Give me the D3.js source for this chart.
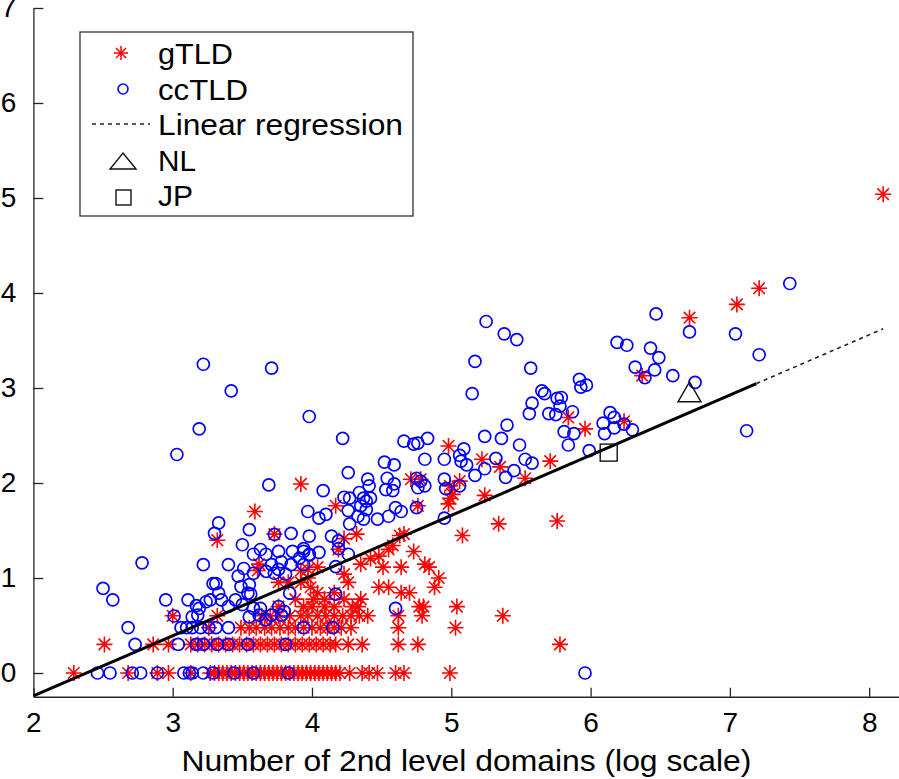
<!DOCTYPE html>
<html><head><meta charset="utf-8">
<script src="https://cdn.jsdelivr.net/npm/d3@7"></script>
<style>body{margin:0;background:#fff}svg{display:block}text{font-family:"Liberation Sans",Arial,Helvetica,sans-serif;fill:#000}</style>
</head><body><svg id="c" width="899" height="779"></svg>
<script>
const xTicks = [2, 3, 4, 5, 6, 7, 8];
const yTicks = [0, 1, 2, 3, 4, 5, 6, 7];
const xDomain = [2, 8.5];
const yDomain = [-0.25, 7];
const xLabel = "Number of 2nd level domains (log scale)";
const legendLabels = ["gTLD", "ccTLD", "Linear regression", "NL", "JP"];

// gTLD: [log10 #2nd-level domains, value]
const gtld = [
[2.29,0],[2.68,0],[2.89,0],[2.97,0],[3.13,0],[3.27,0],[3.30,0],[3.33,0],[3.36,0],[3.39,0],[3.42,0],[3.45,0],[3.48,0],[3.51,0],[3.54,0],[3.57,0],[3.60,0],[3.63,0],[3.66,0],[3.69,0],[3.72,0],[3.75,0],[3.78,0],[3.81,0],[3.84,0],[3.87,0],[3.90,0],[3.93,0],[3.96,0],[3.99,0],[4.02,0],[4.05,0],[4.08,0],[4.11,0],[4.14,0],[4.17,0],[4.20,0],[4.27,0],[4.36,0],[4.41,0],[4.47,0],[4.60,0],[4.66,0],[4.99,0],
[2.51,0.301],[2.86,0.301],[2.97,0.301],[3.13,0.301],[3.18,0.301],[3.23,0.301],[3.28,0.301],[3.33,0.301],[3.38,0.301],[3.43,0.301],[3.48,0.301],[3.53,0.301],[3.58,0.301],[3.63,0.301],[3.68,0.301],[3.73,0.301],[3.78,0.301],[3.83,0.301],[3.88,0.301],[3.93,0.301],[3.98,0.301],[4.03,0.301],[4.08,0.301],[4.13,0.301],[4.17,0.301],[4.26,0.301],[4.36,0.301],[4.62,0.301],[4.76,0.301],[5.78,0.301],
[3.26,0.477],[3.49,0.477],[3.55,0.477],[3.60,0.477],[3.66,0.477],[3.71,0.477],[3.77,0.477],[3.83,0.477],[3.88,0.477],[3.94,0.477],[4.00,0.477],[4.06,0.477],[4.11,0.477],[4.16,0.477],[4.21,0.477],[4.28,0.477],[4.62,0.477],[5.03,0.477],
[3.00,0.602],[3.32,0.602],[3.64,0.602],[3.70,0.602],[3.76,0.602],[3.84,0.602],[3.92,0.602],[3.97,0.602],[4.04,0.602],[4.10,0.602],[4.16,0.602],[4.22,0.602],[4.28,0.602],[4.34,0.602],[4.40,0.602],[4.62,0.602],[4.79,0.602],[5.37,0.602],
[3.76,0.699],[3.94,0.699],[4.00,0.699],[4.09,0.699],[4.16,0.699],[4.29,0.699],[4.33,0.699],[4.77,0.699],[4.80,0.699],[5.04,0.699],
[3.88,0.778],[4.01,0.778],[4.09,0.778],[4.23,0.778],[4.35,0.778],
[4.04,0.845],[4.16,0.845],[4.64,0.845],[4.70,0.845],
[3.99,0.903],[4.48,0.903],[4.55,0.903],[4.88,0.903],
[3.76,0.954],[3.83,0.954],[3.92,0.954],[4.26,0.954],
[4.91,1.0],[3.97,1.0],[4.23,1.041],[3.61,1.079],[3.92,1.079],[3.97,1.09],
[4.04,1.114],[4.51,1.114],[4.64,1.114],[4.84,1.114],[3.62,1.146],[4.35,1.146],[4.81,1.146],
[4.42,1.204],[4.48,1.23],[4.55,1.301],[4.73,1.279],[4.19,1.301],[4.58,1.342],[3.32,1.398],[4.23,1.415],
[4.63,1.447],[5.08,1.447],[4.32,1.462],[4.66,1.462],[3.73,1.462],[5.34,1.57],[5.76,1.60],[3.59,1.70],
[4.17,1.76],[4.76,1.76],[4.98,1.78],[4.99,1.84],[5.24,1.87],[5.01,1.88],[4.99,1.97],[3.92,1.99],[5.06,2.02],
[4.71,2.04],[4.78,2.04],[5.53,2.05],[5.35,2.17],[5.71,2.23],[5.22,2.25],[4.98,2.39],[5.96,2.57],[6.24,2.65],
[5.84,2.69],[6.37,3.13],[6.71,3.74],[7.05,3.88],[7.21,4.05],[8.10,5.04]
];

// ccTLD
const cctld = [
[2.46,0],[2.55,0],[2.71,0],[2.77,0],[2.89,0],[3.08,0],[3.12,0],[3.14,0],[3.22,0],[3.29,0],[3.44,0],[3.58,0],[3.83,0],[5.96,0],
[2.73,0.301],[3.04,0.301],[3.17,0.301],[3.22,0.301],[3.32,0.301],[3.40,0.301],[3.54,0.301],[3.81,0.301],
[2.68,0.477],[3.06,0.477],[3.10,0.477],[3.14,0.477],[3.20,0.477],[3.26,0.477],[3.31,0.477],[3.40,0.477],[3.94,0.477],[4.15,0.477],
[3.01,0.60],[3.14,0.59],[3.18,0.61],[3.19,0.68],[3.24,0.75],[3.17,0.71],[3.27,0.77],[3.35,0.77],[3.40,0.70],[3.45,0.77],
[3.50,0.72],[3.56,0.83],[3.58,0.68],[3.63,0.68],[3.71,0.61],[3.62,0.61],[3.67,0.56],[3.55,0.59],[3.76,0.70],[3.78,0.61],
[3.80,0.65],[3.84,0.84],[3.54,0.84],[3.33,0.84],[2.95,0.77],[3.11,0.77],[2.57,0.77],[2.50,0.89],[3.29,0.94],[3.31,0.94],
[3.55,0.93],[3.47,1.02],[3.49,0.91],[3.51,1.10],[3.58,1.05],[3.67,1.07],[3.76,1.09],[3.81,1.04],[3.73,1.05],[3.22,1.14],
[3.40,1.14],[2.78,1.16],[3.50,1.35],[3.58,1.25],[3.63,1.30],[3.67,1.25],[3.71,1.14],[3.76,1.28],[3.78,1.17],[3.85,1.14],
[3.86,1.28],[3.91,1.21],[3.94,1.28],[3.94,1.14],[3.98,1.25],
[3.19,2.57],[3.22,3.25],[3.71,3.21],[3.42,2.97],[3.03,2.30],[3.69,1.98],[3.98,2.70],[3.97,1.70],[3.33,1.58],[3.30,1.47],
[3.55,1.51],[3.73,1.46],[3.85,1.47],
[4.22,2.47],[4.66,2.44],[4.73,2.41],[4.76,2.42],[4.83,2.47],[5.24,2.49],[5.36,2.47],[5.40,2.61],[5.49,2.40],[5.58,2.84],
[5.56,2.73],[5.70,2.73],[4.52,2.22],[4.59,2.19],[4.81,2.25],[4.95,2.25],[5.06,2.29],[5.09,2.36],[5.07,2.23],[5.11,2.19],
[5.17,2.08],[5.24,2.15],[5.32,2.26],[5.39,2.06],[5.45,2.13],[5.53,2.25],[5.58,2.21],
[4.26,2.11],[4.40,2.04],[4.41,1.97],[4.54,2.05],[4.59,1.99],[4.53,1.93],[4.58,1.92],[4.08,1.92],[4.75,2.05],[4.78,2.02],
[4.76,1.95],[4.81,1.97],[4.95,2.04],[4.96,1.94],[5.06,1.97],
[4.23,1.85],[4.27,1.84],[4.34,1.90],[4.37,1.84],[4.39,1.81],[4.42,1.84],[4.35,1.76],[4.39,1.72],[4.05,1.63],[4.10,1.67],
[4.26,1.71],[4.33,1.65],[4.37,1.62],[4.47,1.62],[4.55,1.65],[4.60,1.74],[4.64,1.70],[4.75,1.74],[4.95,1.63],[4.27,1.57],
[3.98,1.44],[4.14,1.44],[4.19,1.39],[4.19,1.31],[4.26,1.25],[4.05,1.27],[3.94,1.31],[3.98,1.24],[4.17,1.12],[4.17,0.83],[4.60,0.68],
[5.25,3.70],[5.38,3.57],[5.47,3.51],[5.17,3.28],[5.57,3.21],[5.15,2.94],[6.19,3.48],[6.26,3.45],[6.47,3.78],[6.71,3.59],
[6.43,3.42],[6.49,3.32],[6.32,3.22],[6.46,3.19],[6.39,3.11],[6.59,3.13],[6.75,3.06],[5.92,3.09],[5.93,3.01],[5.97,3.03],
[5.65,2.97],[5.67,2.94],[5.76,2.89],[5.79,2.90],[5.78,2.81],[5.75,2.72],[5.87,2.75],[5.81,2.54],[5.88,2.52],[5.84,2.40],
[5.99,2.34],[6.14,2.74],[6.09,2.63],[6.17,2.69],[6.10,2.52],[6.17,2.58],[6.24,2.62],[6.30,2.56],
[7.43,4.10],[7.04,3.57],[7.21,3.35],[7.12,2.55]
];

const nlPoint = [6.71, 2.96];
const jpPoint = [6.13, 2.32];
const regCoef = [-1.509, 0.6336];   // intercept, slope
const regSolid = [2, 7.19];
const regDotted = [7.19, 8.1];

const svg = d3.select("#c");
const x = d3.scaleLinear().domain(xDomain).range([33.4, 33.4 + 6.5 * 139.3]);
const y = d3.scaleLinear().domain(yDomain).range([696.75, 8]);
const axisColor = "#262626";

// axes
const gx = svg.append("g").attr("transform", `translate(0,${y(yDomain[0])})`)
  .call(d3.axisBottom(x).tickValues(xTicks).tickSizeInner(-9).tickSizeOuter(0).tickPadding(15).tickFormat(d3.format("d")));
const gy = svg.append("g").attr("transform", `translate(${x(xDomain[0])},0)`)
  .call(d3.axisLeft(y).tickValues(yTicks).tickSizeInner(-10).tickSizeOuter(0).tickPadding(17).tickFormat(d3.format("d")));
[gx, gy].forEach(g => {
  g.select(".domain").attr("stroke", axisColor).attr("stroke-width", 1.3);
  g.selectAll(".tick line").attr("stroke", axisColor).attr("stroke-width", 1.3);
  g.selectAll(".tick text").attr("font-size", 28).attr("fill", "#111")
   .style("font-family", '"Liberation Sans", Arial, sans-serif');
});

svg.append("text").attr("x", x(2) + 148).attr("y", 771).attr("font-size", 29)
  .attr("textLength", 570).attr("lengthAdjust", "spacingAndGlyphs").attr("fill", "#111")
  .text(xLabel);

function starPath(r) {
  const d = r * 0.72;
  return `M${-r},0L${r},0M0,${-r}L0,${r}M${-d},${-d}L${d},${d}M${-d},${d}L${d},${-d}`;
}

// gTLD stars
svg.append("g").selectAll("path").data(gtld).join("path")
  .attr("transform", d => `translate(${x(d[0])},${y(d[1])})`)
  .attr("d", starPath(8)).attr("stroke", "#ff0000").attr("stroke-width", 1.6).attr("fill", "none");

// ccTLD circles
svg.append("g").selectAll("circle").data(cctld).join("circle")
  .attr("cx", d => x(d[0])).attr("cy", d => y(d[1])).attr("r", 6)
  .attr("fill", "none").attr("stroke", "#0000ff").attr("stroke-width", 1.7);

// regression
const reg = v => regCoef[0] + regCoef[1] * v;
const line = d3.line().x(d => x(d)).y(d => y(reg(d)));
svg.append("path").attr("d", line(regSolid)).attr("stroke", "#000").attr("stroke-width", 3).attr("fill", "none");
svg.append("path").attr("d", line(regDotted)).attr("stroke", "#222").attr("stroke-width", 1.6)
  .attr("stroke-dasharray", "4,4").attr("fill", "none");

// NL triangle and JP square
function triPath(h, w) { return `M0,${-h}L${w},${h}L${-w},${h}Z`; }
svg.append("path").attr("transform", `translate(${x(nlPoint[0])},${y(nlPoint[1])})`)
  .attr("d", triPath(10, 11.5)).attr("fill", "none").attr("stroke", "#111").attr("stroke-width", 1.4);
svg.append("rect").attr("x", x(jpPoint[0]) - 8.5).attr("y", y(jpPoint[1]) - 8.5).attr("width", 17).attr("height", 17)
  .attr("fill", "none").attr("stroke", "#111").attr("stroke-width", 1.4);

// legend
const lg = svg.append("g");
lg.append("rect").attr("x", 80).attr("y", 32).attr("width", 333).attr("height", 184)
  .attr("fill", "#fff").attr("stroke", "#333").attr("stroke-width", 1.3);
const baselines = [64, 99.5, 135, 170.5, 206];
const widths = [75, 90, 245, 38, 35];
legendLabels.forEach((t, i) => {
  lg.append("text").attr("x", 158).attr("y", baselines[i]).attr("font-size", 29)
    .attr("textLength", widths[i]).attr("lengthAdjust", "spacingAndGlyphs").text(t);
});
lg.append("path").attr("transform", "translate(121,53)").attr("d", starPath(7)).attr("stroke", "#ff0000").attr("stroke-width", 1.5);
lg.append("circle").attr("cx", 123).attr("cy", 89).attr("r", 5).attr("fill", "none").attr("stroke", "#0000ff").attr("stroke-width", 1.6);
lg.append("line").attr("x1", 92).attr("x2", 150).attr("y1", 124).attr("y2", 124).attr("stroke", "#222").attr("stroke-width", 1.4).attr("stroke-dasharray", "4,4");
lg.append("path").attr("transform", "translate(123,161)").attr("d", triPath(8, 13)).attr("fill", "none").attr("stroke", "#111").attr("stroke-width", 1.4);
lg.append("rect").attr("x", 116).attr("y", 190).attr("width", 15).attr("height", 15).attr("fill", "none").attr("stroke", "#111").attr("stroke-width", 1.4);
</script></body></html>
